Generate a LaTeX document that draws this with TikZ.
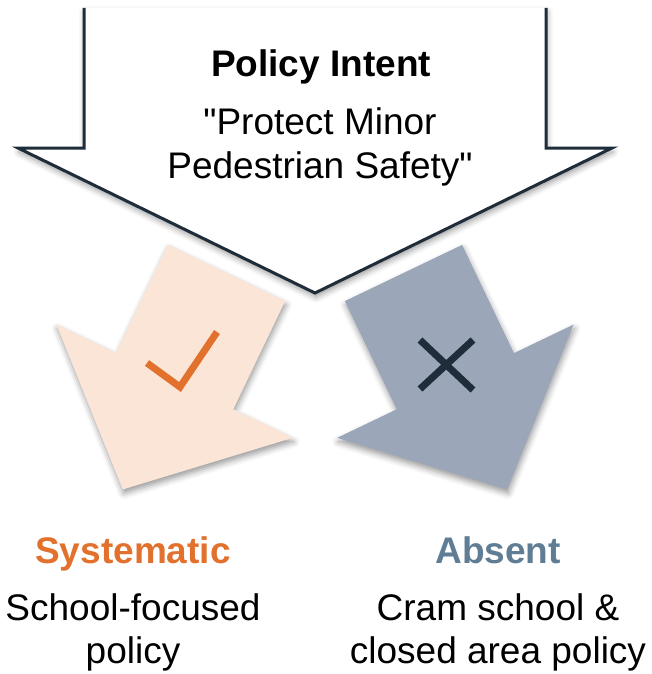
\documentclass[tikz,border=0pt]{standalone}
\usepackage{fontspec}
\setmainfont{Liberation Sans}[Ligatures=TeXOff]
\usepackage{tikz}
\usetikzlibrary{positioning,shadows.blur}

\definecolor{navy}{HTML}{1F2D3B}
\definecolor{peach}{HTML}{FBE5D7}
\definecolor{slate}{HTML}{9BA7B8}
\definecolor{accent}{HTML}{E2712D}
\definecolor{steel}{HTML}{5F7D95}

\tikzset{
	softshadow/.style={blur shadow={shadow xshift=1pt, shadow yshift=-4pt, shadow blur radius=6pt, shadow opacity=40}},
	heading/.style={font=\fontsize{37}{44}\selectfont\bfseries, anchor=base, inner sep=0pt},
	bodytext/.style={font=\fontsize{37}{44}\selectfont, anchor=base, inner sep=0pt},
	tickstroke/.style={line width=7pt, line cap=butt, line join=miter}
}

\begin{document}
\begin{tikzpicture}[x=1pt, y=-1pt, line width=3pt]

		\useasboundingbox (0,0) rectangle (652,674);

		% left arrow (systematic)
		\begin{scope}[shift={(226.5,273)}, rotate=-25.6]
			\fill[peach, softshadow] (-65,0) -- (65,0) -- (65,120) -- (131,120) -- (0,240) -- (-131,120) -- (-65,120) -- cycle;
		\end{scope}

		% right arrow (absent)
		\begin{scope}[shift={(403.5,273)}, rotate=25.6]
			\fill[slate, softshadow] (-65,0) -- (65,0) -- (65,120) -- (131,120) -- (0,240) -- (-131,120) -- (-65,120) -- cycle;
		\end{scope}

		\draw[tickstroke, accent] (147,363) -- (180,387) -- (217,332);
		\draw[tickstroke, navy] (420,340) -- (473,390);
		\draw[tickstroke, navy] (473,340) -- (420,389);

		% big arrow
		\fill[white, softshadow] (84,8) -- (84,148) -- (18,148) -- (315,293) -- (612,148) -- (546,148) -- (546,8) -- cycle;
		\draw[navy, line join=miter] (84,8) -- (84,148) -- (18,148) -- (315,293) -- (612,148) -- (546,148) -- (546,8);

		\node[heading] (intent) at (321,77) {Policy Intent};
		\node[bodytext] (protect) at (320,135) {"Protect Minor};
		\node[bodytext, below=43pt of protect.base, anchor=base] (safety) {Pedestrian Safety"};

		\node[heading, text=accent] (systematic) at (133,563) {Systematic};
		\node[bodytext] (school) at (133,620) {School-focused};
		\node[bodytext, below=43pt of school.base, anchor=base] (schoolpol) {policy};

		\node[heading, text=steel] (absent) at (498,563) {Absent};
		\node[bodytext] (cram) at (498,620) {Cram school \&};
		\node[bodytext, below=43pt of cram.base, anchor=base] (closed) {closed area policy};
	\end{tikzpicture}
\end{document}
